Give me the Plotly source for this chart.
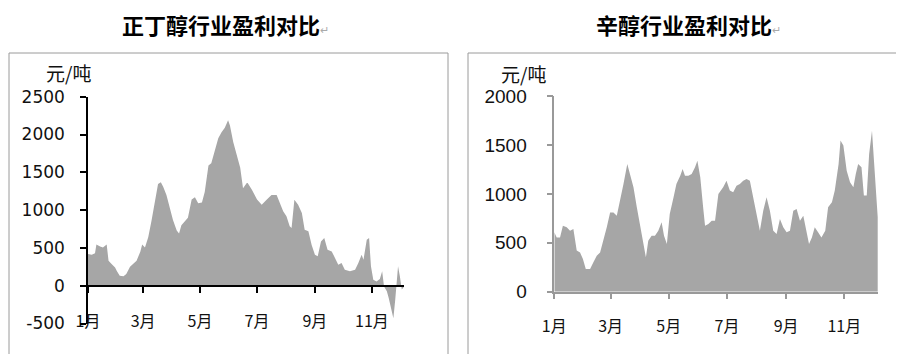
import plotly.graph_objects as go

# months (day of year where each month starts) and labels
month_days = [0, 31, 59, 90, 120, 151, 181, 212, 243, 273, 304, 334]
odd_month_days = [0, 59, 120, 181, 243, 304]
odd_month_labels = ['1月', '3月', '5月', '7月', '9月', '11月']

left_y_ticks = [-500, 0, 500, 1000, 1500, 2000, 2500]
left_y_labels = ['-500', '0', '500', '1000', '1500', '2000', '2500']
right_y_ticks = [0, 500, 1000, 1500, 2000]

# 正丁醇 profit, yuan/ton (day of year, value)
butanol_days = [0, 4, 7.5, 9, 13, 16, 20, 22, 25, 29, 31, 34, 38, 41, 45, 48.5, 52, 56, 58,
                61, 64.5, 68, 72, 75, 78, 80.5, 84, 88, 91, 95, 97.5, 100, 104, 107, 111,
                114.5, 118, 122, 125, 129, 132, 136, 139.5, 143, 146.5, 150, 152, 155.5, 159,
                163, 166, 170, 171, 175.5, 181, 186, 191.5, 196.5, 202, 205.5, 209, 212.5,
                216, 218, 221, 225, 229, 232, 236, 239.5, 243, 246, 249.5, 253, 256.5, 261,
                264.5, 268, 271.5, 275, 280.5, 286, 289.5, 293, 295, 298.5, 301, 303, 305.5,
                309, 312.5, 315, 317, 320, 322, 325, 327, 329, 330.5, 332, 334, 336, 338]
butanol_vals = [420, 410, 430, 545, 520, 505, 545, 330, 290, 240, 190, 130, 125, 155, 250, 290,
                330, 450, 545, 505, 640, 860, 1170, 1345, 1370, 1310, 1200, 1020, 870, 730, 690,
                800, 860, 900, 1140, 1170, 1090, 1100, 1240, 1590, 1620, 1800, 1950, 2030, 2090,
                2190, 2120, 1900, 1740, 1560, 1290, 1360, 1358, 1270, 1140, 1070, 1140, 1200,
                1200, 1095, 985, 917, 785, 763, 1138, 1070, 960, 740, 720, 540, 410, 390, 586,
                630, 476, 454, 366, 278, 300, 212, 190, 212, 300, 410, 344, 609, 630, 256, 80,
                57, 88, 190, -10, -75, -163, -318, -430, -185, -10, 256, 123, -50, -20]

# 辛醇 profit, yuan/ton
octanol_days = [0, 2.5, 6, 9, 13, 16.5, 20, 21.5, 23.5, 27, 30, 33, 37.5, 41, 44.5, 48, 51.5,
                55, 58.5, 62, 65.5, 69, 72.5, 76.5, 79.5, 83, 86.5, 90, 93.5, 96, 98.5, 102,
                105.5, 109, 112.5, 115, 118, 121, 125, 128, 132, 134.5, 137, 140.5, 144, 147.5,
                150, 153, 156, 158, 161.5, 165, 168.5, 172, 177, 180.5, 184, 187.5, 191, 194.5,
                198, 201.5, 205, 208.5, 212, 215.5, 219, 222.5, 226, 229.5, 233, 236.5, 240,
                243.5, 247, 250.5, 254, 257.5, 261, 264.5, 267, 270, 273, 276.5, 280, 284, 287,
                291, 294, 298, 300, 303, 306.5, 310, 313.5, 316, 318.5, 322, 324.5, 327.5, 330,
                333, 336.5, 339]
octanol_vals = [607, 555, 555, 675, 658, 624, 640, 520, 420, 400, 334, 232, 232, 300, 368, 400,
                520, 658, 810, 810, 777, 930, 1100, 1305, 1186, 1067, 862, 658, 487, 351, 520,
                572, 572, 624, 709, 572, 487, 794, 964, 1100, 1186, 1254, 1186, 1186, 1203,
                1271, 1339, 1169, 862, 675, 692, 726, 726, 999, 1067, 1135, 1033, 1016, 1084,
                1100, 1135, 1152, 1135, 964, 760, 624, 828, 964, 828, 624, 590, 743, 658, 607,
                624, 828, 845, 726, 777, 624, 487, 555, 658, 607, 555, 624, 862, 913, 1033,
                1305, 1544, 1493, 1237, 1118, 1067, 1203, 1305, 1271, 982, 982, 1408, 1646,
                1135, 760]

W, H = 904, 354
OFF = 8  # page body margin, the figure is drawn 8px in from the window corner
FILL = '#a6a6a6'
CJK = 'Noto Sans CJK SC'

def px_x(p):
    return (p - OFF) / W

def px_y(p):
    return 1 - (p - OFF) / H

fig = go.Figure()
fig.add_trace(go.Scatter(x=butanol_days, y=butanol_vals, mode='lines', fill='tozeroy',
                         fillcolor=FILL, line=dict(width=0, color=FILL),
                         xaxis='x', yaxis='y', hoverinfo='skip'))
fig.add_trace(go.Scatter(x=octanol_days, y=octanol_vals, mode='lines', fill='tozeroy',
                         fillcolor=FILL, line=dict(width=0, color=FILL),
                         xaxis='x2', yaxis='y2', hoverinfo='skip'))

left_dom = [px_x(88), px_x(404.3)]
right_dom = [px_x(554.3), px_x(878)]
zero_pos = px_y(285.7)

fig.update_layout(
    template='none',
    width=W, height=H, margin=dict(l=0, r=0, t=0, b=0, pad=0), autosize=False,
    paper_bgcolor='white', plot_bgcolor='rgba(0,0,0,0)', showlegend=False,
    font=dict(family=CJK, color='#111'),
    # left chart
    xaxis=dict(domain=left_dom, range=[0, 338.7], anchor='free', position=zero_pos,
               automargin=False,
               showline=True, linecolor='black', linewidth=1.5, showgrid=False, zeroline=False,
               ticks='outside', ticklen=7, tickwidth=1.5, tickcolor='black',
               tickvals=odd_month_days, ticktext=odd_month_labels,
               ticklabelstandoff=14, tickfont=dict(family=CJK, size=16, color='#111')),
    xaxis3=dict(domain=left_dom, range=[0, 338.7], anchor='free', position=zero_pos,
                overlaying='x', automargin=False,
                showline=False, showgrid=False, zeroline=False,
                ticks='inside', ticklen=4, tickwidth=1.5, tickcolor='black',
                tickvals=month_days, showticklabels=False),
    yaxis=dict(domain=[px_y(323.5), px_y(96.7)], range=[-500, 2500], anchor='x',
               automargin=False,
               showline=True, linecolor='black', linewidth=1.5, showgrid=False, zeroline=False,
               ticks='outside', ticklen=6, tickwidth=1.5, tickcolor='black',
               tickvals=left_y_ticks, ticktext=left_y_labels, ticklabelstandoff=12,
               tickfont=dict(family='DejaVu Sans', size=17, color='#111')),
    # right chart
    xaxis2=dict(domain=right_dom, range=[0, 339.3], anchor='y2', automargin=False,
                showline=True, linecolor='#999999', linewidth=1.5, showgrid=False, zeroline=False,
                ticks='outside', ticklen=6, tickwidth=1.5, tickcolor='#999999',
                tickvals=odd_month_days, ticktext=odd_month_labels,
                ticklabelstandoff=13, tickfont=dict(family=CJK, size=16, color='#111')),
    yaxis2=dict(domain=[px_y(291.7), px_y(96)], range=[0, 2000], anchor='x2', automargin=False,
                showline=True, linecolor='#999999', linewidth=1.5, showgrid=False, zeroline=False,
                ticks='outside', ticklen=6, tickwidth=1.5, tickcolor='#999999',
                tickvals=right_y_ticks, ticklabelstandoff=16,
                tickfont=dict(family='Liberation Sans', size=19, color='#111')),
)

# frames around each chart
fig.add_shape(type='rect', xref='paper', yref='paper', x0=px_x(9), x1=px_x(448),
              y0=-0.05, y1=px_y(53), line=dict(color='#9a9a9a', width=1))
fig.add_shape(type='rect', xref='paper', yref='paper', x0=px_x(468), x1=1.05,
              y0=-0.05, y1=px_y(53), line=dict(color='#9a9a9a', width=1))

mark = "<span style='color:#aaa;font-size:11px;font-weight:normal'>↵</span>"
titles = [('<b>正丁醇行业盈利对比</b>' + mark, 225), ('<b>辛醇行业盈利对比</b>' + mark, 688)]
for text, cx in titles:
    fig.add_annotation(text=text, xref='paper', yref='paper', x=px_x(cx), y=px_y(24),
                       xanchor='center', yanchor='middle', showarrow=False, borderpad=0,
                       font=dict(family=CJK, size=22, color='black'))

for cx, cy in [(68.5, 72), (523, 74)]:
    fig.add_annotation(text='元/吨', xref='paper', yref='paper', x=px_x(cx), y=px_y(cy),
                       xanchor='center', yanchor='middle', showarrow=False,
                       font=dict(family=CJK, size=19, color='#111'))

fig.write_html("out.html")
